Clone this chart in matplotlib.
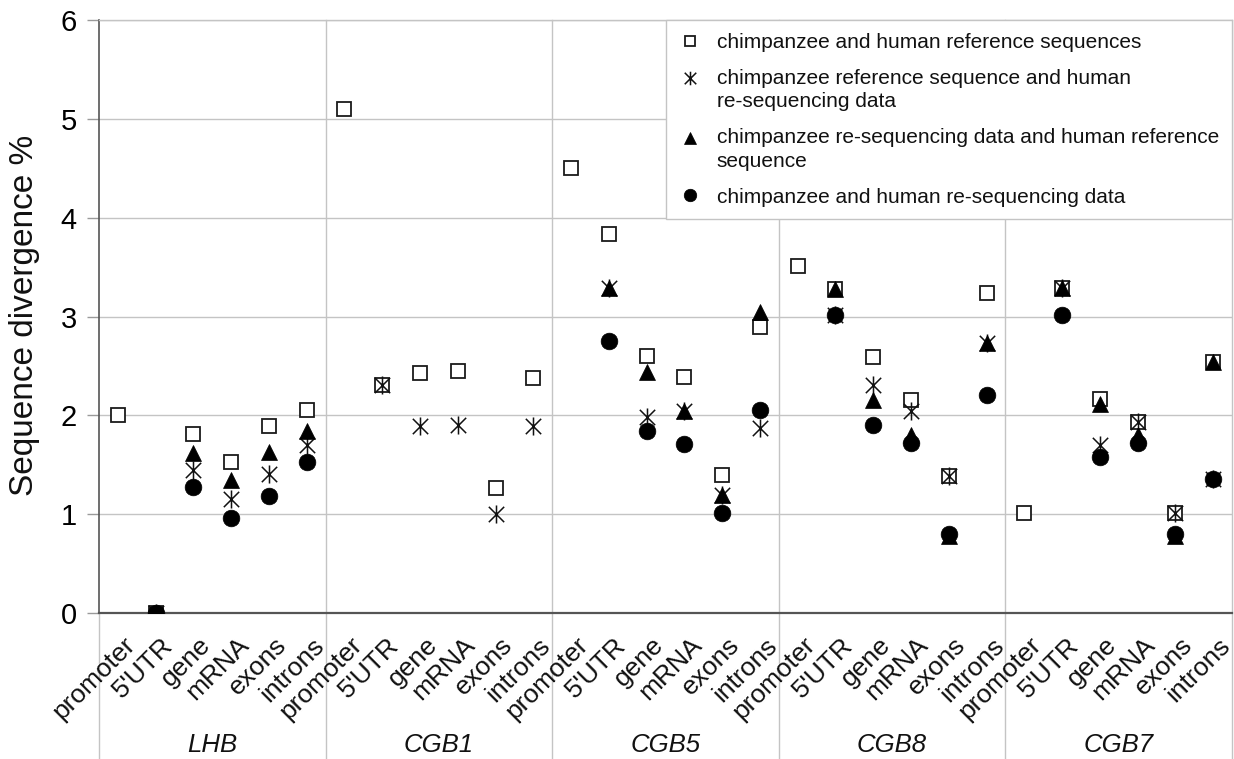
import matplotlib
matplotlib.use('Agg')
import matplotlib.pyplot as plt
import matplotlib.transforms as mtransforms
from matplotlib.path import Path
from matplotlib.legend_handler import HandlerLine2D
import numpy as np

plt.rcParams['font.family'] = ['Liberation Sans', 'DejaVu Sans']

nan = np.nan
genes = ['LHB', 'CGB1', 'CGB5', 'CGB8', 'CGB7']
regions = ['promoter', "5'UTR", 'gene', 'mRNA', 'exons', 'introns']
categories = regions * len(genes)

# chimpanzee and human reference sequences (open squares)
ref_ref = [2.00, 0.00, 1.81, 1.53, 1.89, 2.05,
           5.10, 2.31, 2.43, 2.45, 1.26, 2.38,
           4.50, 3.83, 2.60, 2.39, 1.40, 2.89,
           3.51, 3.28, 2.59, 2.16, 1.39, 3.24,
           1.01, 3.29, 2.17, 1.93, 1.01, 2.54]
# chimpanzee reference sequence and human re-sequencing data (stars)
ref_reseq = [nan, 0.00, 1.45, 1.15, 1.41, 1.70,
             nan, 2.31, 1.89, 1.90, 1.00, 1.89,
             nan, 3.29, 1.98, 2.04, 1.19, 1.87,
             nan, 3.02, 2.31, 2.04, 1.39, 2.73,
             nan, 3.29, 1.70, 1.93, 1.01, 1.36]
# chimpanzee re-sequencing data and human reference sequence (triangles)
reseq_ref = [nan, 0.00, 1.62, 1.35, 1.63, 1.84,
             nan, nan, nan, nan, nan, nan,
             nan, 3.29, 2.44, 2.04, 1.19, 3.05,
             nan, 3.28, 2.16, 1.80, 0.78, 2.73,
             nan, 3.29, 2.11, 1.80, 0.78, 2.54]
# chimpanzee and human re-sequencing data (circles)
reseq_reseq = [nan, 0.00, 1.27, 0.96, 1.18, 1.53,
               nan, nan, nan, nan, nan, nan,
               nan, 2.75, 1.84, 1.71, 1.01, 2.05,
               nan, 3.02, 1.90, 1.72, 0.80, 2.21,
               nan, 3.02, 1.58, 1.72, 0.80, 1.36]

labels = ['chimpanzee and human reference sequences',
          'chimpanzee reference sequence and human\nre-sequencing data',
          'chimpanzee re-sequencing data and human reference\nsequence',
          'chimpanzee and human re-sequencing data']

W, H = 1234, 759
fig = plt.figure(figsize=(W / 100, H / 100), dpi=100)
ax = fig.add_axes([99 / W, (H - 613) / H, (1232 - 99) / W, (613 - 20) / H])

x = np.arange(len(categories)) + 0.5
grid_c = '#c4c4c4'

star_path = Path([(0, -1), (0, 1), (-0.85, -0.85), (0.85, 0.85), (-0.85, 0.85), (0.85, -0.85)],
                 [Path.MOVETO, Path.LINETO, Path.MOVETO, Path.LINETO, Path.MOVETO, Path.LINETO])

styles = [
    dict(marker='s', ms=10.5, mfc='white', mec='#1a1a1a', mew=1.3),
    dict(marker=star_path, ms=13, mfc='none', mec='#111111', mew=1.1),
    dict(marker='^', ms=12, mfc='black', mec='black', mew=0.5),
    dict(marker='o', ms=12, mfc='black', mec='black', mew=0.5),
]
handles = []
for i, (vals, lab, st) in enumerate(zip([ref_ref, ref_reseq, reseq_ref, reseq_reseq], labels, styles)):
    h, = ax.plot(x, vals, linestyle='none', label=lab, zorder=3 + i, **st)
    handles.append(h)

ax.set_xlim(0, len(categories))
ax.set_ylim(0, 6)
ax.set_yticks(range(7))
ax.set_xticks([])
ax.tick_params(axis='y', length=9, color='#9a9a9a', width=1, labelsize=21, pad=7)
ax.yaxis.grid(True, color=grid_c, lw=1)
ax.set_axisbelow(True)

ax.spines['top'].set_color(grid_c)
ax.spines['top'].set_linewidth(1)
ax.spines['right'].set_visible(False)
ax.spines['left'].set_color('#555555')
ax.spines['left'].set_linewidth(1.2)
ax.spines['bottom'].set_color('#555555')
ax.spines['bottom'].set_linewidth(1.6)

trans = ax.get_xaxis_transform()
below = -(H - 613) / (613 - 20)
for g in range(len(genes) + 1):
    xs = 6 * g
    top = 0 if g == 0 else 1
    ax.plot([xs, xs], [below, top], transform=trans, color=grid_c, lw=1, clip_on=False, zorder=0.5)

off = mtransforms.ScaledTranslation(5 / 100, -20 / 100, fig.dpi_scale_trans)
for xi, lbl in zip(x, categories):
    ax.text(xi, 0, lbl, transform=trans + off, rotation=45, rotation_mode='anchor',
            ha='right', va='top', fontsize=19, color='#111111')

for g, name in enumerate(genes):
    ax.text(6 * g + 3, -(745 - 613) / (613 - 20), name, transform=trans, ha='center', va='center',
            style='italic', fontsize=18.5, color='#111111')

fig.text(25 / W, 1 - 315 / H, 'Sequence divergence %', rotation=90, ha='center', va='center',
         fontsize=24, color='#111111')


class ShiftHandler(HandlerLine2D):
    def __init__(self, shift=0.0, **kw):
        super().__init__(**kw)
        self.shift = shift

    def create_artists(self, legend, orig_handle, xdescent, ydescent, width, height, fontsize, trans):
        arts = super().create_artists(legend, orig_handle, xdescent, ydescent, width, height, fontsize, trans)
        for a in arts:
            a.set_ydata(np.asarray(a.get_ydata()) + self.shift)
        return arts


hmap = {handles[0]: ShiftHandler(0), handles[1]: ShiftHandler(8.5),
        handles[2]: ShiftHandler(8.5), handles[3]: ShiftHandler(0)}
leg = ax.legend(handles=handles, labels=labels, handler_map=hmap,
                loc='upper right', bbox_to_anchor=(1.0, 1.0), borderaxespad=0, fontsize=15,
                frameon=True, fancybox=False, edgecolor=grid_c, framealpha=1,
                markerscale=0.75, handlelength=1.0, handletextpad=0.8, labelspacing=0.8,
                borderpad=0.62)
for t in leg.get_texts():
    t.set_linespacing(1.32)
    t.set_color('#111111')
leg.get_frame().set_linewidth(1)
leg.set_zorder(10)

fig.savefig('out.png', dpi=100)
